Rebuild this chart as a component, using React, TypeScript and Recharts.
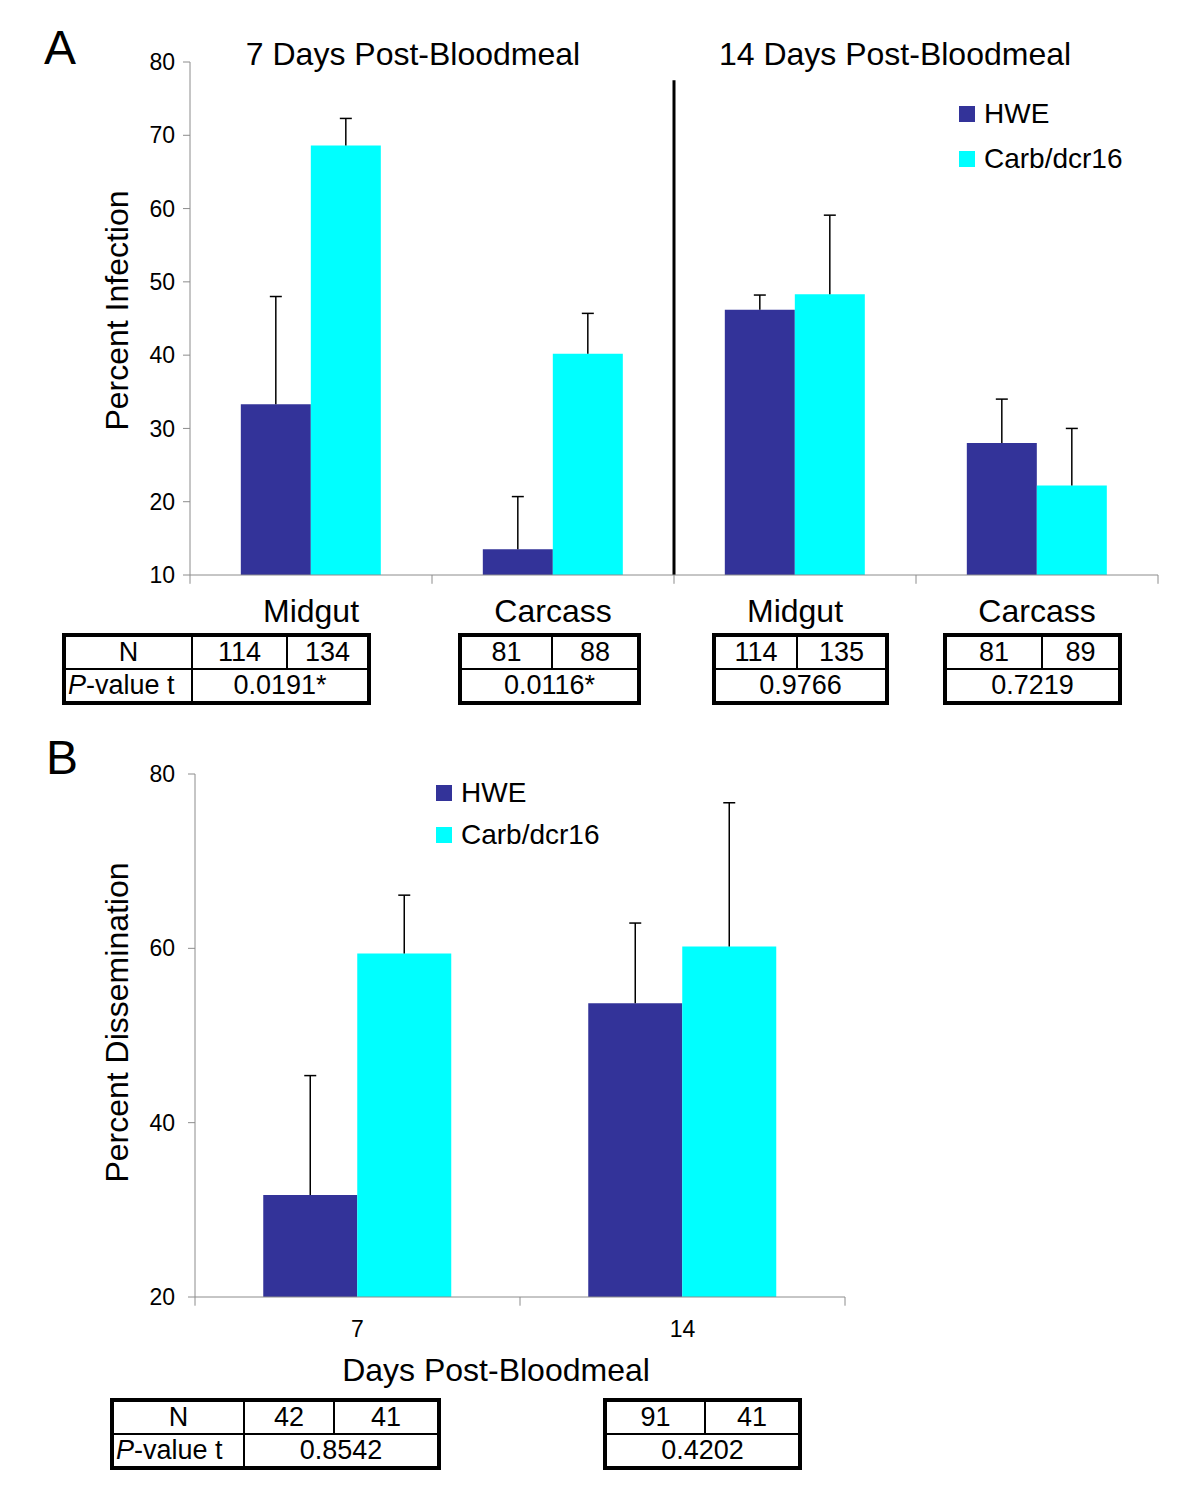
import React from 'react';
import { BarChart, Bar, XAxis, YAxis, ErrorBar, ReferenceLine, Legend, Label } from 'recharts';

// Two-panel figure: A = percent infection, B = percent dissemination.
// Error bars are one-sided (upper only), so the lower bound is always 0.

const NAVY = '#333399';
const CYAN = '#00FFFF';
const AXIS_GRAY = '#8c8c8c';
const FONT = '"Liberation Sans", Arial, Helvetica, sans-serif';
const SERIES_NAMES = ['HWE', 'Carb/dcr16'];

// Panel A
const tissueKeys = ['Midgut-7', 'Carcass-7', 'Midgut-14', 'Carcass-14'];
const hweInfection = [33.3, 13.5, 46.2, 28.0];
const hweInfectionErr = [14.7, 7.2, 2.0, 6.0];
const carbInfection = [68.6, 40.2, 48.3, 22.2];
const carbInfectionErr = [3.7, 5.5, 10.8, 7.8];
const infectionTicks = [10, 20, 30, 40, 50, 60, 70, 80];
const infectionN = [
  [114, 134],
  [81, 88],
  [114, 135],
  [81, 89],
];
const infectionP = ['0.0191*', '0.0116*', '0.9766', '0.7219'];

// Panel B
const dayKeys = ['7', '14'];
const hweDissem = [31.7, 53.7];
const hweDissemErr = [13.7, 9.2];
const carbDissem = [59.4, 60.2];
const carbDissemErr = [6.7, 16.5];
const dissemTicks = [20, 40, 60, 80];
const dissemN = [
  [42, 41],
  [91, 41],
];
const dissemP = ['0.8542', '0.4202'];

const infectionData = tissueKeys.map((key, i) => ({
  key,
  hwe: hweInfection[i],
  hweErr: [0, hweInfectionErr[i]],
  carb: carbInfection[i],
  carbErr: [0, carbInfectionErr[i]],
}));

const dissemData = dayKeys.map((key, i) => ({
  key,
  hwe: hweDissem[i],
  hweErr: [0, hweDissemErr[i]],
  carb: carbDissem[i],
  carbErr: [0, carbDissemErr[i]],
}));

function legendContent(rowHeight: number) {
  return ({ payload }: any) => {
    const items = [...(payload ?? [])].sort(
      (a: any, b: any) => SERIES_NAMES.indexOf(a.value) - SERIES_NAMES.indexOf(b.value)
    );
    return (
      <div style={{ fontFamily: FONT, fontSize: 28, color: '#000' }}>
        {items.map((entry: any) => (
          <div key={entry.value} style={{ display: 'flex', alignItems: 'center', height: rowHeight }}>
            <span
              style={{ display: 'inline-block', width: 16, height: 16, background: entry.color, marginRight: 9 }}
            />
            <span>{entry.value}</span>
          </div>
        ))}
      </div>
    );
  };
}

// tick marks at the category boundaries (Excel style)
function boundaryTicks(keys: string[], yBase: number, tickLen: number) {
  const marks = keys.map((k) => ({ x: k, position: 'start' as const }));
  marks.push({ x: keys[keys.length - 1], position: 'end' as const });
  return marks.map((m, i) => (
    <ReferenceLine
      key={`bt-${i}`}
      segment={[
        { x: m.x, y: yBase },
        { x: m.x, y: yBase - tickLen },
      ]}
      position={m.position}
      ifOverflow="visible"
      stroke={AXIS_GRAY}
      strokeWidth={1}
    />
  ));
}

function StatTable({
  left,
  top,
  cols,
  n,
  p,
  withLabels,
}: {
  left: number;
  top: number;
  cols: number[];
  n: number[];
  p: string;
  withLabels: boolean;
}) {
  const cell: React.CSSProperties = {
    border: '2px solid #000',
    textAlign: 'center',
    padding: 0,
    height: 31,
    lineHeight: '31px',
    overflow: 'hidden',
    whiteSpace: 'nowrap',
  };
  return (
    <table
      style={{
        position: 'absolute',
        left,
        top,
        width: cols.reduce((a, b) => a + b, 0),
        borderCollapse: 'collapse',
        tableLayout: 'fixed',
        border: '4px solid #000',
        fontFamily: FONT,
        fontSize: 27,
        color: '#000',
      }}
    >
      <colgroup>
        {cols.map((w, i) => (
          <col key={i} style={{ width: w }} />
        ))}
      </colgroup>
      <tbody>
        <tr>
          {withLabels && <td style={cell}>N</td>}
          <td style={cell}>{n[0]}</td>
          <td style={cell}>{n[1]}</td>
        </tr>
        <tr>
          {withLabels && (
            <td style={{ ...cell, textAlign: 'left', paddingLeft: 2 }}>
              <i>P</i>-value t
            </td>
          )}
          <td style={cell} colSpan={2}>
            {p}
          </td>
        </tr>
      </tbody>
    </table>
  );
}

const textStyle = (size: number): React.CSSProperties => ({
  position: 'absolute',
  fontFamily: FONT,
  fontSize: size,
  color: '#000',
  whiteSpace: 'nowrap',
  lineHeight: 1,
});

export default function App() {
  return (
    <div style={{ position: 'relative', width: 1200, height: 1499, background: '#fff', overflow: 'hidden' }}>
      <style>{`body{margin:0} .recharts-errorBar line:nth-of-type(3){display:none}`}</style>

      {/* Panel A */}
      <div style={{ ...textStyle(48), left: 44, top: 24 }}>A</div>
      <div style={{ ...textStyle(32), left: 413, top: 38, transform: 'translateX(-50%)' }}>7 Days Post-Bloodmeal</div>
      <div style={{ ...textStyle(32), left: 895, top: 38, transform: 'translateX(-50%)' }}>14 Days Post-Bloodmeal</div>

      <div style={{ position: 'absolute', left: 0, top: 0 }}>
        <BarChart
          width={1200}
          height={650}
          data={infectionData}
          margin={{ top: 62, right: 42, left: 130, bottom: 0 }}
          barCategoryGap="21%"
          barGap={0}
        >
          <YAxis
            width={60}
            domain={[10, 80]}
            ticks={infectionTicks}
            interval={0}
            allowDataOverflow
            axisLine={{ stroke: AXIS_GRAY }}
            tickLine={{ stroke: AXIS_GRAY }}
            tickSize={7}
            tickMargin={8}
            tick={{ fill: '#000', fontSize: 23, fontFamily: FONT }}
          >
            <Label
              value="Percent Infection"
              angle={-90}
              position="insideLeft"
              offset={-13}
              dy={-8}
              style={{ textAnchor: 'middle', fontSize: 32, fontFamily: FONT, fill: '#000' }}
            />
          </YAxis>
          <XAxis
            dataKey="key"
            height={75}
            axisLine={{ stroke: AXIS_GRAY }}
            tickLine={false}
            tickMargin={18}
            interval={0}
            tickFormatter={(v: string) => v.split('-')[0]}
            tick={{ fill: '#000', fontSize: 32, fontFamily: FONT }}
          />
          <Legend
            layout="vertical"
            align="center"
            verticalAlign="middle"
            wrapperStyle={{ left: 959, top: 91, width: 220 }}
            content={legendContent(45)}
          />
          <Bar dataKey="hwe" name="HWE" fill={NAVY} isAnimationActive={false}>
            <ErrorBar dataKey="hweErr" direction="y" width={6} stroke="#000" strokeWidth={1.5} isAnimationActive={false} />
          </Bar>
          <Bar dataKey="carb" name="Carb/dcr16" fill={CYAN} isAnimationActive={false}>
            <ErrorBar dataKey="carbErr" direction="y" width={6} stroke="#000" strokeWidth={1.5} isAnimationActive={false} />
          </Bar>
          <ReferenceLine
            segment={[
              { x: 'Midgut-14', y: 77.5 },
              { x: 'Midgut-14', y: 10 },
            ]}
            position="start"
            stroke="#000"
            strokeWidth={3}
          />
          {boundaryTicks(tissueKeys, 10, 1.2)}
        </BarChart>
      </div>

      <StatTable left={62} top={633} cols={[128, 95, 82]} n={infectionN[0]} p={infectionP[0]} withLabels />
      <StatTable left={458} top={633} cols={[92, 87]} n={infectionN[1]} p={infectionP[1]} withLabels={false} />
      <StatTable left={712} top={633} cols={[83, 90]} n={infectionN[2]} p={infectionP[2]} withLabels={false} />
      <StatTable left={943} top={633} cols={[97, 78]} n={infectionN[3]} p={infectionP[3]} withLabels={false} />

      {/* Panel B */}
      <div style={{ ...textStyle(48), left: 46, top: 734 }}>B</div>

      <div style={{ position: 'absolute', left: 0, top: 700 }}>
        <BarChart
          width={900}
          height={697}
          data={dissemData}
          margin={{ top: 74, right: 55, left: 135, bottom: 0 }}
          barCategoryGap="21%"
          barGap={0}
        >
          <YAxis
            width={60}
            domain={[20, 80]}
            ticks={dissemTicks}
            interval={0}
            allowDataOverflow
            axisLine={{ stroke: AXIS_GRAY }}
            tickLine={{ stroke: AXIS_GRAY }}
            tickSize={7}
            tickMargin={13}
            tick={{ fill: '#000', fontSize: 23, fontFamily: FONT }}
          >
            <Label
              value="Percent Dissemination"
              angle={-90}
              position="insideLeft"
              offset={-18}
              dy={-13}
              style={{ textAnchor: 'middle', fontSize: 32, fontFamily: FONT, fill: '#000' }}
            />
          </YAxis>
          <XAxis
            dataKey="key"
            height={100}
            axisLine={{ stroke: AXIS_GRAY }}
            tickLine={false}
            tickMargin={18}
            interval={0}
            tick={{ fill: '#000', fontSize: 23, fontFamily: FONT }}
          >
            <Label
              value="Days Post-Bloodmeal"
              position="insideBottom"
              offset={16}
              dx={-24}
              style={{ fontSize: 32, fontFamily: FONT, fill: '#000' }}
            />
          </XAxis>
          <Legend
            layout="vertical"
            align="center"
            verticalAlign="middle"
            wrapperStyle={{ left: 436, top: 72, width: 220 }}
            content={legendContent(42)}
          />
          <Bar dataKey="hwe" name="HWE" fill={NAVY} isAnimationActive={false}>
            <ErrorBar dataKey="hweErr" direction="y" width={6} stroke="#000" strokeWidth={1.5} isAnimationActive={false} />
          </Bar>
          <Bar dataKey="carb" name="Carb/dcr16" fill={CYAN} isAnimationActive={false}>
            <ErrorBar dataKey="carbErr" direction="y" width={6} stroke="#000" strokeWidth={1.5} isAnimationActive={false} />
          </Bar>
          {boundaryTicks(dayKeys, 20, 1.0)}
        </BarChart>
      </div>

      <StatTable left={110} top={1398} cols={[132, 90, 105]} n={dissemN[0]} p={dissemP[0]} withLabels />
      <StatTable left={603} top={1398} cols={[100, 95]} n={dissemN[1]} p={dissemP[1]} withLabels={false} />
    </div>
  );
}
